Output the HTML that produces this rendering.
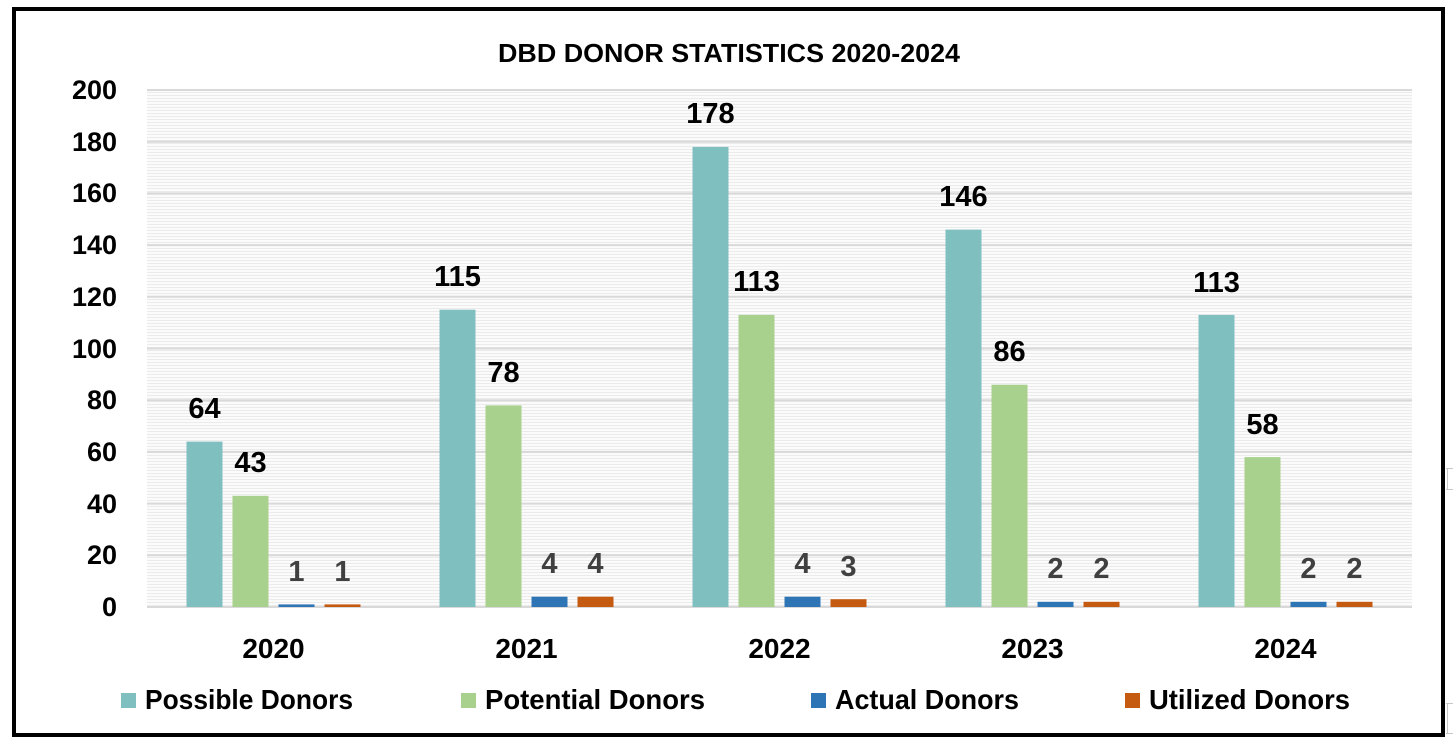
<!DOCTYPE html>
<html>
<head>
<meta charset="utf-8">
<style>
  html,body{margin:0;padding:0;background:#fff;}
  body{width:1453px;height:745px;overflow:hidden;position:relative;}
  svg{position:absolute;left:0;top:0;}
  text{font-family:"Liberation Sans", sans-serif;font-weight:bold;}
</style>
</head>
<body>
<svg width="1453" height="745" viewBox="0 0 1453 745" xmlns="http://www.w3.org/2000/svg">
  <defs>
    <pattern id="stripes" x="0" y="0" width="10" height="3" patternUnits="userSpaceOnUse">
      <rect x="0" y="0" width="10" height="3" fill="#fbfbfb"/>
      <rect x="0" y="2" width="10" height="1" fill="#ebebeb"/>
    </pattern>
  </defs>

  <!-- faint spreadsheet lines outside border -->
  <g stroke="#c8c8c8" stroke-width="1">
    <line x1="1446" y1="468.5" x2="1453" y2="468.5"/>
    <line x1="1446" y1="489.5" x2="1453" y2="489.5"/>
    <line x1="1447.5" y1="468" x2="1447.5" y2="489"/>
    <line x1="1446" y1="703.5" x2="1453" y2="703.5"/>
    <line x1="1446" y1="733.5" x2="1453" y2="733.5"/>
    <line x1="1447.5" y1="703" x2="1447.5" y2="733"/>
  </g>

  <!-- outer border -->
  <rect x="14" y="9" width="1429" height="726" fill="#fff" stroke="#000" stroke-width="4"/>

  <!-- title -->
  <text x="498" y="62" font-size="26" fill="#000" textLength="462" lengthAdjust="spacingAndGlyphs">DBD DONOR STATISTICS 2020-2024</text>

  <!-- plot area background -->
  <rect x="147" y="90" width="1265" height="517" fill="url(#stripes)"/>

  <!-- gridlines -->
  <g stroke="#d9d9d9" stroke-width="2">
    <line x1="147" y1="90" x2="1412" y2="90"/>
    <line x1="147" y1="141.7" x2="1412" y2="141.7"/>
    <line x1="147" y1="193.4" x2="1412" y2="193.4"/>
    <line x1="147" y1="245.1" x2="1412" y2="245.1"/>
    <line x1="147" y1="296.8" x2="1412" y2="296.8"/>
    <line x1="147" y1="348.5" x2="1412" y2="348.5"/>
    <line x1="147" y1="400.2" x2="1412" y2="400.2"/>
    <line x1="147" y1="451.9" x2="1412" y2="451.9"/>
    <line x1="147" y1="503.6" x2="1412" y2="503.6"/>
    <line x1="147" y1="555.3" x2="1412" y2="555.3"/>
    <line x1="147" y1="607" x2="1412" y2="607"/>
  </g>

  <!-- y axis labels -->
  <g font-size="27" fill="#000" text-anchor="end">
    <text x="117" y="99">200</text>
    <text x="117" y="151">180</text>
    <text x="117" y="202">160</text>
    <text x="117" y="254">140</text>
    <text x="117" y="306">120</text>
    <text x="117" y="358">100</text>
    <text x="117" y="409">80</text>
    <text x="117" y="461">60</text>
    <text x="117" y="513">40</text>
    <text x="117" y="564">20</text>
    <text x="117" y="616">0</text>
  </g>

  <!-- bars -->
  <!-- 2020 c=273.5 -->
  <rect x="186.5" y="441.6" width="36" height="165.4" fill="#80BFC0"/>
  <rect x="232.5" y="495.8" width="36" height="111.2" fill="#A9D18E"/>
  <rect x="278.5" y="604.4" width="36" height="2.6" fill="#2E75B6"/>
  <rect x="324.5" y="604.4" width="36" height="2.6" fill="#C55A11"/>
  <!-- 2021 c=526.5 -->
  <rect x="439.5" y="309.7" width="36" height="297.3" fill="#80BFC0"/>
  <rect x="485.5" y="405.4" width="36" height="201.6" fill="#A9D18E"/>
  <rect x="531.5" y="596.7" width="36" height="10.3" fill="#2E75B6"/>
  <rect x="577.5" y="596.7" width="36" height="10.3" fill="#C55A11"/>
  <!-- 2022 c=779.5 -->
  <rect x="692.5" y="146.9" width="36" height="460.1" fill="#80BFC0"/>
  <rect x="738.5" y="314.9" width="36" height="292.1" fill="#A9D18E"/>
  <rect x="784.5" y="596.7" width="36" height="10.3" fill="#2E75B6"/>
  <rect x="830.5" y="599.2" width="36" height="7.8" fill="#C55A11"/>
  <!-- 2023 c=1032.5 -->
  <rect x="945.5" y="229.6" width="36" height="377.4" fill="#80BFC0"/>
  <rect x="991.5" y="384.7" width="36" height="222.3" fill="#A9D18E"/>
  <rect x="1037.5" y="601.8" width="36" height="5.2" fill="#2E75B6"/>
  <rect x="1083.5" y="601.8" width="36" height="5.2" fill="#C55A11"/>
  <!-- 2024 c=1285.5 -->
  <rect x="1198.5" y="314.9" width="36" height="292.1" fill="#80BFC0"/>
  <rect x="1244.5" y="457.1" width="36" height="149.9" fill="#A9D18E"/>
  <rect x="1290.5" y="601.8" width="36" height="5.2" fill="#2E75B6"/>
  <rect x="1336.5" y="601.8" width="36" height="5.2" fill="#C55A11"/>

  <!-- data labels -->
  <g font-size="29" text-anchor="middle">
    <g fill="#000">
      <text x="204.5" y="418">64</text>
      <text x="250.5" y="472">43</text>
      <text x="457.5" y="286">115</text>
      <text x="503.5" y="382">78</text>
      <text x="710.5" y="123">178</text>
      <text x="756.5" y="291">113</text>
      <text x="963.5" y="206">146</text>
      <text x="1009.5" y="361">86</text>
      <text x="1216.5" y="292">113</text>
      <text x="1262.5" y="434">58</text>
    </g>
    <g fill="#404040">
      <text x="296.5" y="581">1</text>
      <text x="342.5" y="581">1</text>
      <text x="549.5" y="573">4</text>
      <text x="595.5" y="573">4</text>
      <text x="802.5" y="573">4</text>
      <text x="848.5" y="576">3</text>
      <text x="1055.5" y="578">2</text>
      <text x="1101.5" y="578">2</text>
      <text x="1308.5" y="578">2</text>
      <text x="1354.5" y="578">2</text>
    </g>
  </g>

  <!-- category labels -->
  <g font-size="28" fill="#000" text-anchor="middle">
    <text x="273.5" y="658">2020</text>
    <text x="526.5" y="658">2021</text>
    <text x="779.5" y="658">2022</text>
    <text x="1032.5" y="658">2023</text>
    <text x="1285.5" y="658">2024</text>
  </g>

  <!-- legend -->
  <rect x="121" y="693" width="15" height="15" fill="#80BFC0"/>
  <text x="145" y="709" font-size="28" fill="#000" textLength="208" lengthAdjust="spacingAndGlyphs">Possible Donors</text>
  <rect x="461" y="693" width="15" height="15" fill="#A9D18E"/>
  <text x="485" y="709" font-size="28" fill="#000" textLength="220" lengthAdjust="spacingAndGlyphs">Potential Donors</text>
  <rect x="811" y="693" width="15" height="15" fill="#2E75B6"/>
  <text x="835" y="709" font-size="28" fill="#000" textLength="184" lengthAdjust="spacingAndGlyphs">Actual Donors</text>
  <rect x="1125" y="693" width="15" height="15" fill="#C55A11"/>
  <text x="1149" y="709" font-size="28" fill="#000" textLength="201" lengthAdjust="spacingAndGlyphs">Utilized Donors</text>
</svg>
</body>
</html>
